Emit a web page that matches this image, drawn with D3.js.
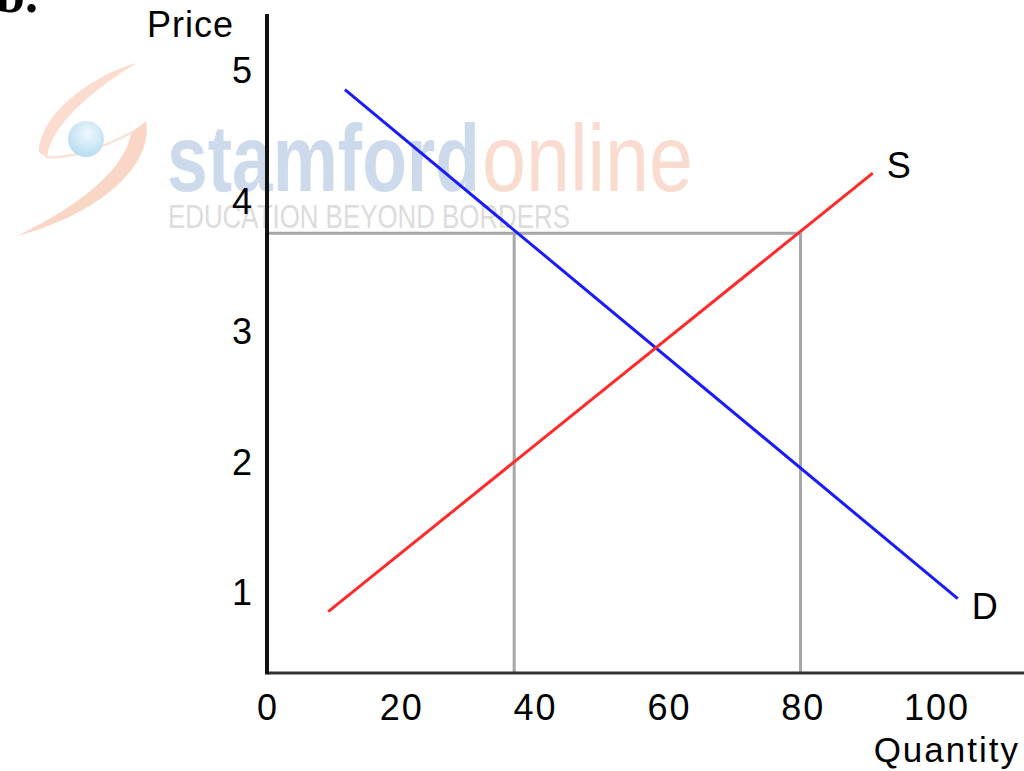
<!DOCTYPE html>
<html>
<head>
<meta charset="utf-8">
<script src="https://cdn.jsdelivr.net/npm/d3@7"></script>
<style>
	body { margin: 0; background: #fff; }
	svg { display: block; }
	text { font-family: "Liberation Sans", Arial, sans-serif; }
</style>
</head>
<body>
<script>
// values (quantity, price)
const xTicks = [0, 20, 40, 60, 80, 100];
const yTicks = [1, 2, 3, 4, 5];
const demand = [[11.5, 4.85], [103.1, 0.95]];
const supply = [[9.0, 0.85], [90.4, 4.21]];
const priceCeiling = 3.75;
const qDemanded = 36.8;
const qSupplied = 79.6;
const curveLabels = [
	{ name: 'S', q: 92.5, p: 4.17 },
	{ name: 'D', q: 105.2, p: 0.79 },
];

const width = 1024, height = 771;
const svg = d3.select('body').append('svg')
	.attr('width', width)
	.attr('height', height);

// pixel frame of the plot
const x = d3.scaleLinear([0, 100], [268, 937]);
const y = d3.scaleLinear([0.38, 5.43], [673, 14]);

// watermark logo
const wm = svg.append('g').attr('class', 'watermark');
wm.append('path')
	.attr('d', 'M 137 63 C 95 74, 40 112, 39 152 L 47 158 C 50 124, 98 86, 137 63 Z')
	.style('fill', '#fbdccf');
wm.append('path')
	.attr('d', 'M 46 157 C 72 160, 118 142, 142 126')
	.style('fill', 'none')
	.style('stroke', '#fbe2d7')
	.style('stroke-width', 2.5);
wm.append('path')
	.attr('d', 'M 146 121 C 154 165, 100 214, 17 236 C 62 214, 122 178, 131 134 Z')
	.style('fill', '#fad6c6');
const ballGrad = svg.append('defs').append('radialGradient')
	.attr('id', 'ball')
	.attr('cx', '55%').attr('cy', '35%').attr('r', '65%');
ballGrad.append('stop').attr('offset', '0%').attr('stop-color', '#eef8fd');
ballGrad.append('stop').attr('offset', '100%').attr('stop-color', '#b8dcf0');
wm.append('circle')
	.attr('cx', 86).attr('cy', 139).attr('r', 18)
	.style('fill', 'url(#ball)');
wm.append('text')
	.attr('x', 167).attr('y', 191)
	.attr('textLength', 313).attr('lengthAdjust', 'spacingAndGlyphs')
	.style('font-family', '"Liberation Sans Narrow", "Liberation Sans", sans-serif')
	.style('font-weight', 'bold').style('font-size', '94px')
	.style('fill', '#cddaec')
	.text('stamford');
wm.append('text')
	.attr('x', 482).attr('y', 191)
	.attr('textLength', 211).attr('lengthAdjust', 'spacingAndGlyphs')
	.style('font-family', '"Liberation Sans Narrow", "Liberation Sans", sans-serif')
	.style('font-size', '94px')
	.style('fill', '#f9dccf')
	.text('online');
wm.append('text')
	.attr('x', 168).attr('y', 228)
	.attr('textLength', 402).attr('lengthAdjust', 'spacingAndGlyphs')
	.style('font-family', '"Liberation Sans Narrow", "Liberation Sans", sans-serif')
	.style('font-size', '34px')
	.style('fill', '#dcdcdc')
	.text('EDUCATION BEYOND BORDERS');

// cut-off caption at the top
svg.append('text')
	.attr('x', -4).attr('y', 12)
	.style('font-family', '"Liberation Serif", serif')
	.style('font-weight', 'bold').style('font-size', '52px')
	.style('fill', '#000')
	.text('b.');

// guide lines
const guides = svg.append('g').attr('class', 'guides')
	.style('stroke', '#a6a6a6')
	.style('stroke-width', 3)
	.style('fill', 'none');
guides.append('line')
	.attr('x1', x(0)).attr('x2', x(qSupplied))
	.attr('y1', y(priceCeiling)).attr('y2', y(priceCeiling));
guides.selectAll('line.v')
	.data([qDemanded, qSupplied])
	.join('line')
	.attr('class', 'v')
	.attr('x1', d => x(d)).attr('x2', d => x(d))
	.attr('y1', y(priceCeiling)).attr('y2', y(0.38));

// axes
svg.append('line')
	.attr('x1', x(0)).attr('x2', width)
	.attr('y1', y(0.38)).attr('y2', y(0.38))
	.style('stroke', '#333').style('stroke-width', 3);
svg.append('line')
	.attr('x1', x(0) - 1).attr('x2', x(0) - 1)
	.attr('y1', y(5.43)).attr('y2', y(0.38) + 1.5)
	.style('stroke', '#111').style('stroke-width', 4);

svg.append('g').attr('class', 'x-ticks')
	.selectAll('text')
	.data(xTicks)
	.join('text')
	.attr('x', d => x(d))
	.attr('y', 720)
	.attr('text-anchor', 'middle')
	.style('font-size', '36px')
	.style('letter-spacing', '2px')
	.text(d => d);

svg.append('g').attr('class', 'y-ticks')
	.selectAll('text')
	.data(yTicks)
	.join('text')
	.attr('x', 252)
	.attr('y', d => y(d) + 13)
	.attr('text-anchor', 'end')
	.style('font-size', '36px')
	.text(d => d);

svg.append('text')
	.attr('x', 147).attr('y', 37)
	.style('font-size', '36px')
	.style('letter-spacing', '1px')
	.text('Price');
svg.append('text')
	.attr('x', 1020).attr('y', 762)
	.attr('text-anchor', 'end')
	.style('font-size', '35px')
	.style('letter-spacing', '2px')
	.text('Quantity');

// curves
const line = d3.line()
	.x(d => x(d[0]))
	.y(d => y(d[1]));
svg.append('path')
	.datum(demand)
	.attr('d', line)
	.style('fill', 'none').style('stroke', '#1a1aff').style('stroke-width', 3);
svg.append('path')
	.datum(supply)
	.attr('d', line)
	.style('fill', 'none').style('stroke', '#ff2a2a').style('stroke-width', 3);

svg.append('g').attr('class', 'curve-labels')
	.selectAll('text')
	.data(curveLabels)
	.join('text')
	.attr('x', d => x(d.q))
	.attr('y', d => y(d.p))
	.style('font-size', '36px')
	.text(d => d.name);
</script>
</body>
</html>
